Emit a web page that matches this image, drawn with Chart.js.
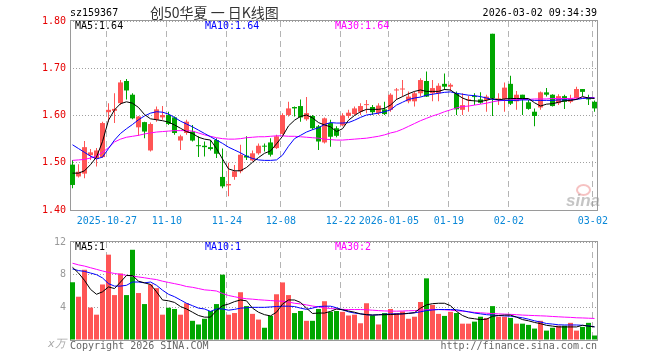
<!DOCTYPE html>
<html>
<head>
<meta charset="utf-8">
<script src="https://cdn.jsdelivr.net/npm/chart.js@4.4.1/dist/chart.umd.min.js"></script>
<style>
  body { margin: 0; background: #fff; }
  #wrap { position: relative; width: 660px; height: 360px; overflow: hidden; font: 10px 'DejaVu Sans Mono', monospace; }
  #wrap canvas { position: absolute; left: 0; }
  .t { position: absolute; white-space: pre; line-height: 10px; }
</style>
</head>
<body>
<div id="wrap">
  <canvas id="kline" width="660" height="232" style="top:0"></canvas>
  <canvas id="vol" width="660" height="128" style="top:232px"></canvas>
  <div class="t" style="left:70px;top:8px;color:#000">sz159367</div>
  <div class="t" style="left:150px;top:5px;font:14px 'Noto Sans CJK SC';line-height:14px;color:#333">创50华夏 一 日K线图</div>
  <div class="t" style="right:63px;top:8px;color:#000">2026-03-02 09:34:39</div>
  <div class="t" id="lg5" style="left:75px;top:21px;color:#000"></div>
  <div class="t" id="lg10" style="left:205px;top:21px;color:#0000ff"></div>
  <div class="t" id="lg30" style="left:335px;top:21px;color:#ff00ff"></div>
  <div class="t" id="vlg5" style="left:75px;top:242px;color:#000"></div>
  <div class="t" id="vlg10" style="left:205px;top:242px;color:#0000ff"></div>
  <div class="t" id="vlg30" style="left:335px;top:242px;color:#ff00ff"></div>
  <div class="t" style="left:48px;top:336px;font:italic 11px 'DejaVu Sans';color:#aaa">x万</div>
  <div class="t" style="left:70px;top:341px;color:#666">Copyright 2026 SINA.COM</div>
  <div class="t" style="right:63px;top:341px;color:#666">http://finance.sina.com.cn</div>
  <div style="position:absolute;left:576px;top:184px;width:11px;height:8px;border:2px solid rgba(235,120,120,0.45);border-radius:50%"></div>
  <div class="t" style="left:566px;top:192px;font:italic bold 17px 'Liberation Sans';line-height:17px;color:rgba(150,150,150,0.55)">sina</div>
</div>
<script>
// trading days (MM-DD), 2025-10-17 .. 2026-03-02
const dates = ['10-17','10-20','10-21','10-22','10-23','10-24','10-27','10-28','10-29','10-30',
  '10-31','11-03','11-04','11-05','11-06','11-07','11-10','11-11','11-12','11-13',
  '11-14','11-17','11-18','11-19','11-20','11-21','11-24','11-25','11-26','11-27',
  '11-28','12-01','12-02','12-03','12-04','12-08','12-09','12-10','12-11','12-12',
  '12-15','12-16','12-17','12-18','12-19','12-22','12-23','12-24','12-25','12-26',
  '12-29','12-30','12-31','01-05','01-06','01-07','01-08','01-09','01-12','01-13',
  '01-14','01-15','01-16','01-19','01-20','01-21','01-22','01-23','01-26','01-27',
  '01-28','01-29','01-30','02-02','02-03','02-04','02-05','02-06','02-09','02-10',
  '02-11','02-12','02-13','02-24','02-25','02-26','02-27','03-02'];
const tickLabels = ['2025-10-27','11-10','11-24','12-08','12-22','2026-01-05','01-19','02-02','03-02'];

const open = [1.496,1.471,1.477,1.516,1.508,1.512,1.607,1.610,1.626,1.673,
  1.644,1.575,1.586,1.526,1.591,1.596,1.601,1.596,1.547,1.563,
  1.566,1.537,1.536,1.533,1.548,1.470,1.452,1.470,1.482,1.515,
  1.505,1.520,1.536,1.543,1.531,1.561,1.601,1.618,1.620,1.592,
  1.599,1.577,1.543,1.584,1.573,1.579,1.599,1.603,1.608,1.622,
  1.618,1.605,1.613,1.612,1.653,1.655,1.630,1.630,1.647,1.673,
  1.647,1.647,1.667,1.661,1.647,1.612,1.632,1.641,1.634,1.633,
  1.773,1.634,1.635,1.667,1.630,1.644,1.628,1.608,1.617,1.649,
  1.644,1.626,1.641,1.629,1.637,1.656,1.637,1.629];
const high = [1.506,1.497,1.546,1.529,1.531,1.587,1.626,1.647,1.675,1.677,
  1.647,1.599,1.587,1.585,1.619,1.620,1.608,1.598,1.559,1.591,
  1.580,1.556,1.545,1.548,1.552,1.530,1.500,1.495,1.538,1.556,
  1.526,1.541,1.541,1.552,1.559,1.605,1.629,1.619,1.634,1.639,
  1.601,1.580,1.596,1.591,1.577,1.605,1.612,1.619,1.626,1.633,
  1.622,1.626,1.629,1.647,1.658,1.675,1.651,1.651,1.679,1.693,
  1.675,1.668,1.689,1.668,1.651,1.647,1.642,1.647,1.649,1.644,
  1.773,1.647,1.670,1.684,1.652,1.644,1.633,1.615,1.651,1.658,
  1.645,1.645,1.644,1.644,1.661,1.656,1.644,1.632];
const low = [1.446,1.469,1.467,1.506,1.492,1.510,1.587,1.584,1.622,1.634,
  1.592,1.557,1.552,1.524,1.587,1.591,1.580,1.559,1.527,1.559,
  1.545,1.512,1.513,1.526,1.510,1.446,1.429,1.464,1.478,1.506,
  1.503,1.517,1.524,1.513,1.529,1.559,1.598,1.598,1.587,1.589,
  1.570,1.527,1.541,1.534,1.554,1.577,1.594,1.601,1.601,1.605,
  1.601,1.601,1.601,1.608,1.633,1.640,1.626,1.619,1.640,1.639,
  1.630,1.630,1.654,1.652,1.601,1.601,1.608,1.622,1.625,1.608,
  1.599,1.622,1.608,1.622,1.612,1.601,1.612,1.577,1.612,1.640,
  1.619,1.622,1.614,1.626,1.633,1.641,1.622,1.608];
const close = [1.453,1.481,1.533,1.522,1.526,1.584,1.612,1.614,1.670,1.653,
  1.594,1.598,1.566,1.582,1.613,1.601,1.582,1.563,1.556,1.587,
  1.547,1.535,1.533,1.529,1.519,1.450,1.455,1.482,1.517,1.511,
  1.520,1.536,1.534,1.517,1.556,1.601,1.615,1.615,1.596,1.605,
  1.573,1.545,1.594,1.555,1.557,1.600,1.606,1.615,1.620,1.623,
  1.607,1.621,1.603,1.644,1.654,1.656,1.640,1.647,1.675,1.640,
  1.658,1.663,1.661,1.665,1.613,1.622,1.633,1.639,1.627,1.640,
  1.637,1.635,1.659,1.625,1.644,1.635,1.614,1.599,1.649,1.644,
  1.620,1.641,1.629,1.637,1.656,1.650,1.634,1.615];
const ma5 = [1.478,1.478,1.483,1.496,1.512,1.545,1.590,1.612,1.625,1.629,
  1.626,1.617,1.602,1.593,1.591,1.589,1.586,1.580,1.573,1.566,
  1.562,1.554,1.550,1.548,1.530,1.508,1.487,1.483,1.483,1.490,
  1.501,1.511,1.520,1.525,1.540,1.556,1.578,1.590,1.598,1.601,
  1.595,1.585,1.580,1.576,1.566,1.572,1.590,1.600,1.608,1.613,
  1.613,1.613,1.615,1.622,1.634,1.640,1.646,1.651,1.654,1.651,
  1.651,1.651,1.655,1.654,1.645,1.637,1.632,1.631,1.630,1.632,
  1.636,1.633,1.635,1.636,1.636,1.636,1.636,1.627,1.620,1.624,
  1.625,1.628,1.631,1.632,1.634,1.640,1.637,1.636];
const ma10 = [1.538,1.530,1.522,1.514,1.508,1.512,1.530,1.548,1.562,1.572,
  1.581,1.591,1.599,1.605,1.608,1.607,1.603,1.596,1.588,1.582,
  1.576,1.569,1.562,1.555,1.548,1.541,1.533,1.527,1.521,1.514,
  1.509,1.506,1.505,1.505,1.506,1.516,1.535,1.551,1.558,1.565,
  1.570,1.574,1.581,1.585,1.584,1.584,1.585,1.590,1.596,1.601,
  1.603,1.605,1.608,1.612,1.622,1.628,1.634,1.637,1.639,1.643,
  1.645,1.647,1.649,1.650,1.647,1.645,1.643,1.642,1.640,1.637,
  1.634,1.633,1.632,1.632,1.632,1.633,1.633,1.632,1.632,1.632,
  1.632,1.633,1.633,1.633,1.634,1.636,1.637,1.637];
const ma30 = [1.505,1.506,1.507,1.510,1.514,1.522,1.532,1.544,1.550,1.554,
  1.556,1.558,1.561,1.563,1.565,1.566,1.567,1.568,1.568,1.568,
  1.567,1.563,1.559,1.556,1.553,1.551,1.550,1.550,1.551,1.553,
  1.554,1.555,1.555,1.556,1.557,1.557,1.556,1.556,1.555,1.554,
  1.553,1.552,1.550,1.549,1.548,1.548,1.549,1.550,1.551,1.552,
  1.554,1.556,1.559,1.563,1.566,1.571,1.577,1.583,1.589,1.594,
  1.599,1.603,1.608,1.612,1.616,1.619,1.620,1.622,1.624,1.626,
  1.629,1.631,1.632,1.633,1.634,1.634,1.634,1.635,1.635,1.635,
  1.636,1.636,1.636,1.636,1.637,1.637,1.638,1.638];
const volume = [7.07,5.3,8.6,3.97,3.1,6.8,10.45,5.5,8.15,5.5,
  11.05,5.75,4.4,6.8,6.35,3.1,3.95,3.8,3.1,4.5,
  2.35,1.9,2.6,3.55,4.4,8.0,3.1,3.3,5.85,4.15,
  3.2,2.5,1.5,2.95,5.6,7.05,5.5,3.3,3.55,2.35,
  2.35,3.8,4.75,3.45,3.55,3.45,3.0,3.1,2.05,4.5,
  3.0,1.9,3.3,3.8,3.3,3.5,2.6,2.85,4.65,7.55,
  4.3,3.2,2.95,3.45,3.3,2.0,2.0,2.25,2.85,2.7,
  4.15,2.85,2.85,2.7,2.0,2.0,1.85,1.4,2.35,1.15,
  1.5,1.75,1.75,2.1,1.15,1.6,2.1,0.55];
const vma5 = [8.9,8.2,7.3,6.2,5.6,5.9,6.5,6.3,7.1,7.9,
  7.9,7.2,7.0,6.8,5.9,4.9,4.8,4.6,4.1,3.8,
  3.4,3.0,2.8,2.8,3.6,4.2,4.4,4.7,4.9,4.8,
  3.9,3.4,3.1,2.95,3.4,4.4,4.9,4.9,4.6,3.9,
  3.25,3.3,3.3,3.5,3.8,3.7,3.55,3.4,3.2,3.1,
  3.05,3.08,3.1,3.12,3.15,3.2,3.25,3.35,3.9,4.3,
  4.45,4.5,4.5,4.2,3.5,3.0,2.7,2.6,2.5,2.55,
  2.9,3.0,3.05,3.05,2.8,2.5,2.35,2.15,2.0,1.8,
  1.7,1.6,1.6,1.6,1.6,1.8,1.7,1.6];
const vma10 = [8.7,8.5,8.4,8.2,8.0,7.6,6.9,6.6,6.6,6.7,
  7.1,7.1,7.0,7.1,6.7,6.1,5.6,5.3,4.9,4.5,
  4.2,3.9,3.8,3.5,3.8,3.8,3.65,3.75,3.9,3.95,
  4.0,4.0,4.0,4.05,4.1,4.14,4.14,4.1,3.9,3.75,
  3.9,4.1,4.14,4.14,3.95,3.7,3.45,3.3,3.2,3.1,
  3.05,3.1,3.15,3.2,3.2,3.2,3.28,3.33,3.45,3.6,
  3.68,3.73,3.73,3.73,3.7,3.58,3.45,3.3,3.2,3.1,
  3.05,3.0,2.95,2.92,2.82,2.72,2.55,2.35,2.2,2.02,
  1.95,1.86,1.84,1.84,1.84,1.8,1.72,1.62];
const vma30 = [9.4,9.2,9.05,8.85,8.65,8.45,8.28,8.15,8.03,7.92,
  7.83,7.72,7.62,7.5,7.4,7.2,7.05,6.9,6.75,6.55,
  6.45,6.3,6.14,6.08,6.0,5.7,5.45,5.3,5.15,5.05,
  5.0,4.93,4.88,4.83,4.78,4.75,4.65,4.5,4.42,4.3,
  4.16,4.05,3.95,3.85,3.8,3.75,3.73,3.73,3.73,3.7,
  3.65,3.6,3.56,3.54,3.53,3.55,3.58,3.6,3.65,3.7,
  3.73,3.73,3.7,3.65,3.58,3.53,3.45,3.38,3.33,3.28,
  3.24,3.2,3.17,3.14,3.1,3.05,3.02,2.99,2.96,2.93,
  2.88,2.84,2.8,2.77,2.72,2.7,2.67,2.64];
const priceTicks = [1.4, 1.5, 1.6, 1.7, 1.8];
const volTicks = [0, 4, 8, 12];

(function () {
  const RED = '#ff5555', GREEN = '#00a600';
  const mono = "'DejaVu Sans Mono', monospace";
  Chart.defaults.font.family = mono;
  Chart.defaults.font.size = 10;
  Chart.defaults.animation = false;

  const last = dates.length - 1;
  document.getElementById('lg5').textContent = 'MA5:' + ma5[last].toFixed(2);
  document.getElementById('lg10').textContent = 'MA10:' + ma10[last].toFixed(2);
  document.getElementById('lg30').textContent = 'MA30:' + ma30[last].toFixed(2);
  document.getElementById('vlg5').textContent = 'MA5:' + Math.floor(vma5[last]);
  document.getElementById('vlg10').textContent = 'MA10:' + Math.floor(vma10[last]);
  document.getElementById('vlg30').textContent = 'MA30:' + Math.floor(vma30[last]);

  const colors = close.map((c, i) => (c >= open[i] ? RED : GREEN));
  const pts = arr => arr.map((v, i) => ({ x: i, y: v }));
  const tickPos = tickLabels.map(l => dates.indexOf(l.slice(-5)) - 0.27);
  const X_MIN = -2.5 / 6, X_MAX = X_MIN + 88;

  const frame = {
    id: 'frame',
    beforeDatasetsDraw(c) {
      const a = c.chartArea, ctx = c.ctx;
      ctx.save();
      ctx.strokeStyle = '#9a9a9a';
      ctx.lineWidth = 1;
      ctx.strokeRect(a.left + 0.5, a.top - 0.5, a.right - a.left - 1, a.bottom - a.top + 1);
      ctx.restore();
    }
  };

  function xAxis(labels) {
    return {
      type: 'linear', min: X_MIN, max: X_MAX, offset: false, bounds: 'data',
      afterBuildTicks: s => { s.ticks = tickPos.map(v => ({ value: v })); },
      afterFit: s => { s.height = labels ? 22 : 0; },
      grid: { color: '#b4b4b4', drawTicks: false, offset: false },
      border: { display: false, dash: [6, 4] },
      ticks: { display: labels, autoSkip: false, maxRotation: 0, padding: 5, color: '#0a88d8', callback: (v, i) => tickLabels[i] }
    };
  }

  function yAxis(min, max, ticks, color, fmt) {
    return {
      min, max, bounds: 'data', beginAtZero: false,
      afterBuildTicks: s => { s.ticks = ticks.map(v => ({ value: v })); },
      afterFit: s => { s.width = 70; },
      grid: { color: '#a0a0a0', drawTicks: false },
      border: { display: false, dash: [1, 2] },
      ticks: { color, padding: 4, callback: fmt }
    };
  }

  const maLine = (data, color) => ({
    type: 'line', data: pts(data), borderColor: color, borderWidth: 1,
    pointRadius: 0, tension: 0, order: 0
  });

  const common = {
    responsive: false,
    events: [],
    plugins: { legend: { display: false }, tooltip: { enabled: false } }
  };

  new Chart(document.getElementById('kline'), {
    type: 'bar',
    data: {
      datasets: [
        maLine(ma5, '#000000'),
        maLine(ma10, '#0000ff'),
        maLine(ma30, '#ff00ff'),
        {
          data: open.map((o, i) => ({ x: i, y: [o, close[i]] })),
          backgroundColor: colors, barThickness: 5, minBarLength: 1,
          grouped: false, inflateAmount: 0, borderWidth: 0, order: 1
        },
        {
          data: low.map((l, i) => ({ x: i, y: [l, high[i]] })),
          backgroundColor: colors, barThickness: 1, minBarLength: 1,
          grouped: false, inflateAmount: 0, borderWidth: 0, order: 2
        }
      ]
    },
    options: Object.assign({}, common, {
      layout: { padding: { top: 21, right: 62, left: 0, bottom: 0 } },
      scales: {
        x: xAxis(true),
        y: yAxis(1.4, 1.8, priceTicks, '#e60000', v => v.toFixed(2))
      }
    }),
    plugins: [frame]
  });

  new Chart(document.getElementById('vol'), {
    type: 'bar',
    data: {
      datasets: [
        maLine(vma5, '#000000'),
        maLine(vma10, '#0000ff'),
        maLine(vma30, '#ff00ff'),
        {
          data: pts(volume), backgroundColor: colors, barThickness: 5,
          inflateAmount: 0, borderWidth: 0, order: 1
        }
      ]
    },
    options: Object.assign({}, common, {
      layout: { padding: { top: 9, right: 62, left: 0, bottom: 20 } },
      scales: {
        x: xAxis(false),
        y: yAxis(0, 12, volTicks, '#999999', v => (v === 0 ? '' : String(v)))
      }
    }),
    plugins: [frame]
  });
})();
</script>
</body>
</html>
